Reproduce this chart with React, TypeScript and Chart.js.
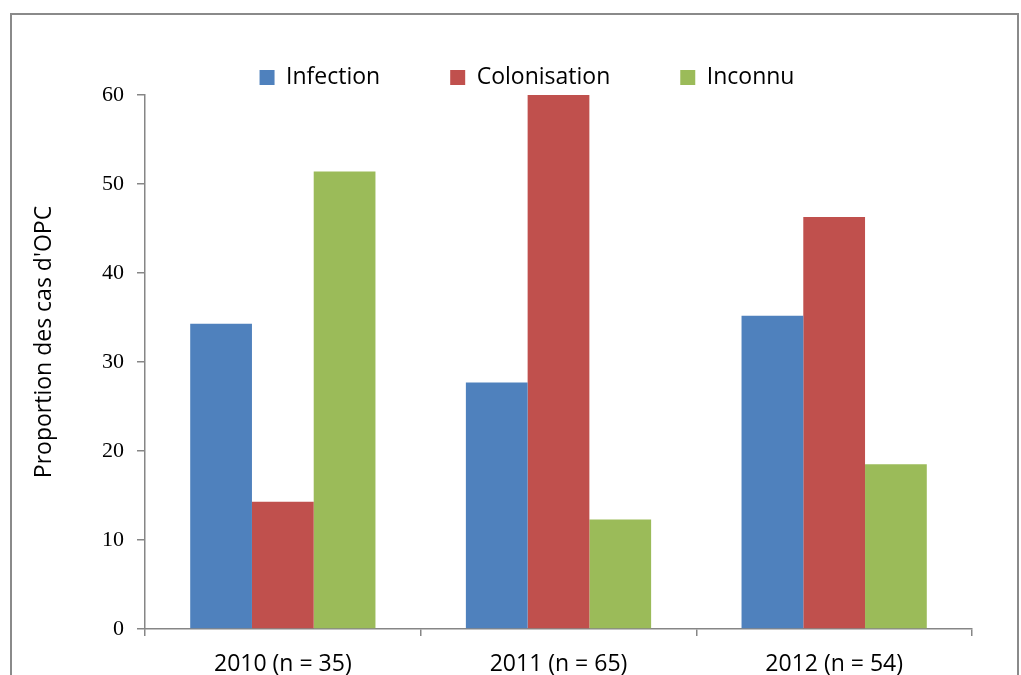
import React, { useEffect, useRef } from "react";
import { Chart, registerables } from "chart.js";

Chart.register(...registerables);

const categories = ["2010 (n = 35)", "2011 (n = 65)", "2012 (n = 54)"];
const seriesNames = ["Infection", "Colonisation", "Inconnu"];
const infection = [34.3, 27.7, 35.2];
const colonisation = [14.3, 60.0, 46.3];
const inconnu = [51.4, 12.3, 18.5];
const seriesColors = ["#4F81BD", "#C0504D", "#9BBB59"];
const yTicksMin = 0;
const yTicksMax = 60;
const yTicksStep = 10;
const yTitle = "Proportion des cas d'OPC";

const SANS = '"Open Sans", "Liberation Sans", sans-serif';
const SERIF = '"Liberation Serif", "Times New Roman", serif';
const AXIS = "#868686";

const legendShift = {
  id: "legendShift",
  afterLayout(chart: any) {
    const l = chart.legend;
    if (l) {
      l.left += 41;
      l.right += 41;
    }
  },
};

const yTitlePlugin = {
  id: "yTitlePlugin",
  afterDraw(chart: any) {
    const { ctx, chartArea } = chart;
    ctx.save();
    ctx.translate(44, (chartArea.top + chartArea.bottom) / 2 - 20);
    ctx.rotate(-Math.PI / 2);
    ctx.font = `23px ${SANS}`;
    ctx.fillStyle = "#000";
    ctx.textAlign = "center";
    ctx.textBaseline = "middle";
    ctx.fillText(yTitle, 0, 0);
    ctx.restore();
  },
};

export default function App() {
  const ref = useRef<HTMLCanvasElement | null>(null);
  useEffect(() => {
    if (!ref.current) return;
    const values = [infection, colonisation, inconnu];
    const chart = new Chart(ref.current, {
      type: "bar",
      data: {
        labels: categories,
        datasets: seriesNames.map((name, i) => ({
          label: name,
          data: values[i],
          backgroundColor: seriesColors[i],
          borderWidth: 0,
          categoryPercentage: 0.672,
          barPercentage: 1.0,
        })),
      },
      options: {
        animation: false,
        responsive: false,
        maintainAspectRatio: false,
        devicePixelRatio: 1,
        layout: { padding: { left: 0, right: 49, top: 0, bottom: 0 } },
        plugins: {
          legend: {
            display: true,
            position: "top",
            maxHeight: 99,
            labels: {
              boxWidth: 15,
              boxHeight: 15,
              padding: 70,
              color: "#000",
              font: { family: SANS, size: 23 },
            },
          },
          tooltip: { enabled: false },
          title: { display: false },
        },
        scales: {
          x: {
            offset: true,
            grid: {
              display: true,
              offset: true,
              drawOnChartArea: false,
              drawTicks: true,
              tickLength: 7,
              color: AXIS,
              lineWidth: 1.5,
            },
            border: { display: true, color: AXIS, width: 1.5 },
            ticks: {
              color: "#000",
              padding: 15,
              maxRotation: 0,
              font: { family: SANS, size: 23 },
            },
            afterFit(scale: any) {
              scale.height = 46;
            },
          },
          y: {
            min: yTicksMin,
            max: yTicksMax,
            grid: {
              display: true,
              drawOnChartArea: false,
              drawTicks: true,
              tickLength: 8,
              color: AXIS,
              lineWidth: 1.5,
            },
            border: { display: true, color: AXIS, width: 1.5 },
            ticks: {
              stepSize: yTicksStep,
              color: "#000",
              padding: 13,
              font: { family: SERIF, size: 22 },
            },
            title: { display: false },
            afterFit(scale: any) {
              scale.width = 145;
            },
          },
        },
      },
      plugins: [legendShift, yTitlePlugin],
    } as any);
    return () => chart.destroy();
  }, []);

  return (
    <>
      <div
        style={{
          position: "fixed",
          left: 10,
          top: 13,
          width: 1009,
          height: 700,
          border: "2px solid #8a8a8a",
          boxSizing: "border-box",
          background: "#fff",
        }}
      />
      <div style={{ position: "fixed", left: 0, top: -4, width: 1021, height: 679 }}>
        <canvas ref={ref} width={1021} height={679} style={{ display: "block", width: 1021, height: 679 }} />
      </div>
    </>
  );
}
